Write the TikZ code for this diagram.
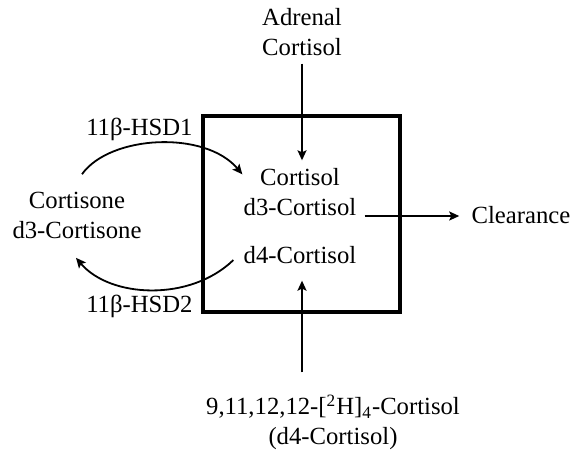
\documentclass[tikz,border=0pt]{standalone}
\usepackage{fontspec}
\setmainfont{Liberation Serif}
\usepackage{tikz}
\usetikzlibrary{positioning,arrows.meta}

\begin{document}
\begin{tikzpicture}[x=0.5pt, y=-0.5pt, font=\fontsize{12.35}{14.6}\selectfont,
      >={Stealth[length=5pt, width=4.5pt, inset=1pt]},
      t/.style={align=center, inner sep=4pt},
      c/.style={->, line width=0.9pt}]
    \useasboundingbox (0,0) rectangle (576,450);
    \node[draw, line width=1.6pt, minimum width=98.5pt, minimum height=98pt] (pool) at (301.5,214) {};
    \node[t] (adr) at (302,32) {Adrenal\\Cortisol};
    \node[t] (cort) at (300,192) {Cortisol\\d3-Cortisol};
    \node[t, anchor=base] (d4) at (300,263) {d4-Cortisol};
    \node[t, anchor=base] (clr) at (521,223) {Clearance};
    \node[t] (cne) at (77,215.5) {Cortisone\\d3-Cortisone};
    \node[t, anchor=base east] (h1) at (201,135) {11β-HSD1};
    \node[t, anchor=base east] (h2) at (201,312) {11β-HSD2};
    \node[t] (lab) at (333,422) {9,11,12,12-[\textsuperscript{2}H]\textsubscript{4}-Cortisol\\(d4-Cortisol)};
    \draw[c] (adr) -- (adr |- cort.north);
    \draw[c, shorten <=7pt, shorten >=4.5pt] (lab.north -| adr) -- (d4.south -| adr);
    \draw[c, shorten >=2pt] ([yshift=-12pt]cort.east) -- ([yshift=-12pt]cort.east -| clr.west);
    \draw[c] ([shift={(2.5pt,5pt)}]cne.north) .. controls (110,135) and (205,130) ..
        ([shift={(3.5pt,-7pt)}]cort.north west);
    \draw[c] ([shift={(-1pt,-2.75pt)}]d4.west) .. controls (190,302) and (110,298) ..
        ([shift={(-0.5pt,-5.5pt)}]cne.south);
  \end{tikzpicture}
\end{document}
